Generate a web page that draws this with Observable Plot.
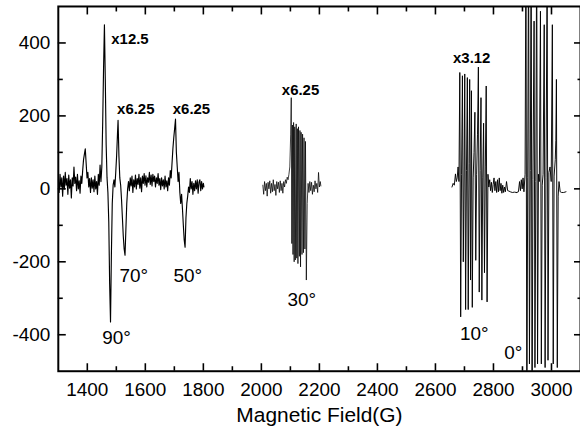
<!DOCTYPE html>
<html><head><meta charset="utf-8">
<script src="https://cdn.jsdelivr.net/npm/d3@7"></script>
<script src="https://cdn.jsdelivr.net/npm/@observablehq/plot@0.6"></script>
<style>
html,body{margin:0;padding:0;background:#fff;overflow:hidden;}
</style></head><body><div id="chart"></div>
<script>
// 90°, 70°, 50° traces (one continuous sweep)
const fieldLow = [1300,1303,1306,1309,1312,1315,1318,1321,1324,1327,1330,1333,1336,1339,1342,1345,1348,1351,1354,1357,1360,1363,1366,1369,1372,1375,1378,1381,1384,1387,1390,1393,1396,1399,1402,1405,1408,1411,1414,1417,1420,1423,1426,1429,1432,1435,1438,1441,1444,1447,1450,1453,1456,1459,1462,1465,1468,1471,1474,1477,1480,1483,1486,1489,1492,1495,1498,1501,1504,1506,1509,1512,1515,1518,1521,1524,1527,1530,1533,1536,1539,1542,1545,1548,1551,1554,1557,1560,1563,1566,1569,1572,1575,1578,1581,1584,1587,1590,1593,1596,1599,1602,1605,1608,1611,1614,1617,1620,1623,1626,1629,1632,1635,1638,1641,1644,1647,1650,1653,1656,1659,1662,1665,1668,1671,1674,1677,1680,1683,1686,1689,1692,1695,1698,1701,1704,1707,1710,1713,1716,1719,1722,1725,1728,1731,1734,1737,1740,1743,1746,1749,1752,1755,1758,1761,1764,1767,1770,1773,1776,1779,1782,1785,1788,1791,1794,1797,1800,1802];
const signalLow = [25,-10,40,5,30,-20,35,0,45,10,28,-15,38,2,25,-25,30,8,60,15,32,-5,40,0,22,-12,35,15,50,80,95,110,70,30,45,5,28,-10,30,2,25,-8,35,0,20,-15,40,10,65,20,60,180,330,450,300,120,30,-10,-90,-260,-365,-180,-40,10,25,5,45,90,150,188,90,30,10,-30,-80,-130,-165,-182,-110,-40,0,20,-5,30,8,35,-10,25,5,38,0,28,12,40,2,30,-8,35,15,42,10,36,5,30,18,45,12,38,8,40,20,35,5,30,15,42,10,28,-2,30,8,25,0,35,5,22,-5,30,10,50,30,70,110,140,165,191,100,60,20,45,-10,-40,-15,-55,-100,-140,-160,-80,-40,-20,5,-10,28,0,20,-15,15,-5,22,0,25,-12,18,25,-5,20,0,15,5];

// 30° trace
const field30 = [2005,2008,2011,2014,2017,2020,2023,2026,2029,2032,2035,2038,2041,2044,2047,2050,2053,2056,2059,2062,2065,2068,2071,2074,2077,2080,2083,2086,2089,2092,2095,2098,2101,2103,2105,2107,2109,2111,2113,2115,2117,2120,2122,2124,2126,2128,2131,2133,2135,2137,2140,2142,2145,2147,2150,2152,2155,2158,2161,2164,2167,2170,2173,2176,2179,2182,2185,2188,2191,2194,2197,2200,2203,2205];
const signal30 = [10,-15,20,-5,15,-20,18,0,22,-12,15,-8,25,-5,12,-18,20,0,18,-10,22,-5,15,-12,20,5,25,15,32,25,40,60,150,250,-150,175,-180,182,-200,170,-195,178,-190,165,-205,170,-185,160,-214,155,-180,150,-175,140,-165,130,-250,-40,15,-10,20,-5,18,-15,10,-8,22,0,15,-10,45,5,20,8];

// 10° trace
const field10 = [2657,2661,2665,2669,2672,2675,2678,2681,2684,2687,2690,2693,2696,2699,2701,2704,2707,2710,2713,2716,2718,2721,2724,2727,2730,2733,2736,2739,2742,2745,2748,2751,2754,2757,2760,2763,2766,2769,2772,2775,2778,2781,2784,2787,2790,2793,2796,2799,2802,2805,2808,2811,2814,2817,2820,2823,2826,2829,2832,2835,2838,2841,2845,2849,2853,2858,2865,2872,2880];
const signal10 = [5,15,10,41,20,30,60,20,319,-351,40,310,-200,60,315,-331,50,305,-331,70,300,-250,269,-325,30,100,210,-196,40,150,334,-283,50,250,-305,30,180,-230,60,282,-310,40,5,25,-5,18,-10,12,30,-5,20,-10,25,-8,30,-5,15,-12,10,-10,5,-8,20,-5,-6,-8,-10,-9,-10];

// 0° trace (peaks run off scale)
const field0 = [2880,2886,2890,2893,2896,2899,2902,2905,2909,2912,2915,2918,2921,2924,2927,2930,2933,2936,2940,2943,2946,2949,2952,2955,2958,2962,2965,2968,2971,2975,2978,2981,2985,2988,2991,2995,2999,3003,3006,3009,3013,3015,3017,3020,3023,3026,3030,3035,3042,3050];
const signal0 = [-10,-8,20,-5,25,0,30,-8,40,700,-700,30,700,-480,50,700,-700,25,460,-490,20,700,-480,40,20,487,-480,10,40,450,-490,30,600,-470,45,60,20,450,-480,35,80,132,300,-490,-20,20,-8,-10,-10,-8];

// annotations
const gainField = [1547,1567,1759,2135,2725];
const gainValue = [411,219,219,270,357];
const gainText = ["x12.5","x6.25","x6.25","x6.25","x3.12"];
const angleField = [1501,1560,1746,2139,2734,2868];
const angleValue = [-408,-238,-238,-305,-398,-450];
const angleText = ["90°","70°","50°","30°","10°","0°"];

// axes
const xMajor = [1400,1600,1800,2000,2200,2400,2600,2800,3000];
const xMinor = [1500,1700,1900,2100,2300,2500,2700,2900];
const yMajor = [-400,-200,0,200,400];
const yMinor = [-300,-100,100,300];
const xTitle = "Magnetic Field(G)";

const zip = (f, s) => f.map((x, i) => ({x, y: s[i]}));
const series = [
  {d: zip(fieldLow, signalLow), w: 1.15},
  {d: zip(field30, signal30), w: 0.75},
  {d: zip(field10, signal10), w: 0.95},
  {d: zip(field0, signal0), w: 0.95}
];
const gains = gainText.map((t, i) => ({x: gainField[i], y: gainValue[i], t}));
const angles = angleText.map((t, i) => ({x: angleField[i], y: angleValue[i], t}));

const blank = () => "";
const plot = Plot.plot({
  width: 582, height: 441,
  marginLeft: 58, marginRight: 0, marginTop: 6, marginBottom: 69,
  style: {fontFamily: "'Liberation Sans', Arial, sans-serif", background: "#fff", color: "#000", overflow: "visible"},
  x: {domain: [1300, 3100], label: null},
  y: {domain: [-500, 500], label: null},
  marks: [
    ...series.map(s => Plot.line(s.d, {x: "x", y: "y", stroke: "#000", strokeWidth: s.w, clip: true})),
    Plot.text(gains, {x: "x", y: "y", text: "t", fontSize: 15, fontWeight: "bold", fill: "#000"}),
    Plot.text(angles, {x: "x", y: "y", text: "t", fontSize: 19, fill: "#000"}),
    Plot.axisX(xMajor, {anchor: "bottom", tickSize: -7.5, tickFormat: blank, strokeWidth: 1.6, label: null}),
    Plot.axisX(xMinor, {anchor: "bottom", tickSize: -4.5, tickFormat: blank, strokeWidth: 1.6, label: null}),
    Plot.axisX(xMajor, {anchor: "top", tickSize: -7.5, tickFormat: blank, strokeWidth: 1.6, label: null}),
    Plot.axisX(xMinor, {anchor: "top", tickSize: -4.5, tickFormat: blank, strokeWidth: 1.6, label: null}),
    Plot.axisX(xMajor, {anchor: "bottom", tickSize: 0, tickPadding: 11, fontSize: 19, tickFormat: d => String(d), label: null}),
    Plot.axisY(yMajor, {anchor: "left", tickSize: -8, tickFormat: blank, strokeWidth: 1.6, label: null}),
    Plot.axisY(yMinor, {anchor: "left", tickSize: -5, tickFormat: blank, strokeWidth: 1.6, label: null}),
    Plot.axisY(yMajor, {anchor: "right", tickSize: -7, tickFormat: blank, strokeWidth: 1.6, label: null}),
    Plot.axisY(yMinor, {anchor: "right", tickSize: -3.5, tickFormat: blank, strokeWidth: 1.6, label: null}),
    Plot.axisY(yMajor, {anchor: "left", tickSize: 0, tickPadding: 8, fontSize: 19, tickFormat: d => String(d), label: null}),
    Plot.text([xTitle], {text: d => d, frameAnchor: "bottom", dy: 51, fontSize: 21, fill: "#000"}),
    Plot.frame({stroke: "#000", strokeWidth: 2})
  ]
});
document.getElementById("chart").appendChild(plot);
</script></body></html>
